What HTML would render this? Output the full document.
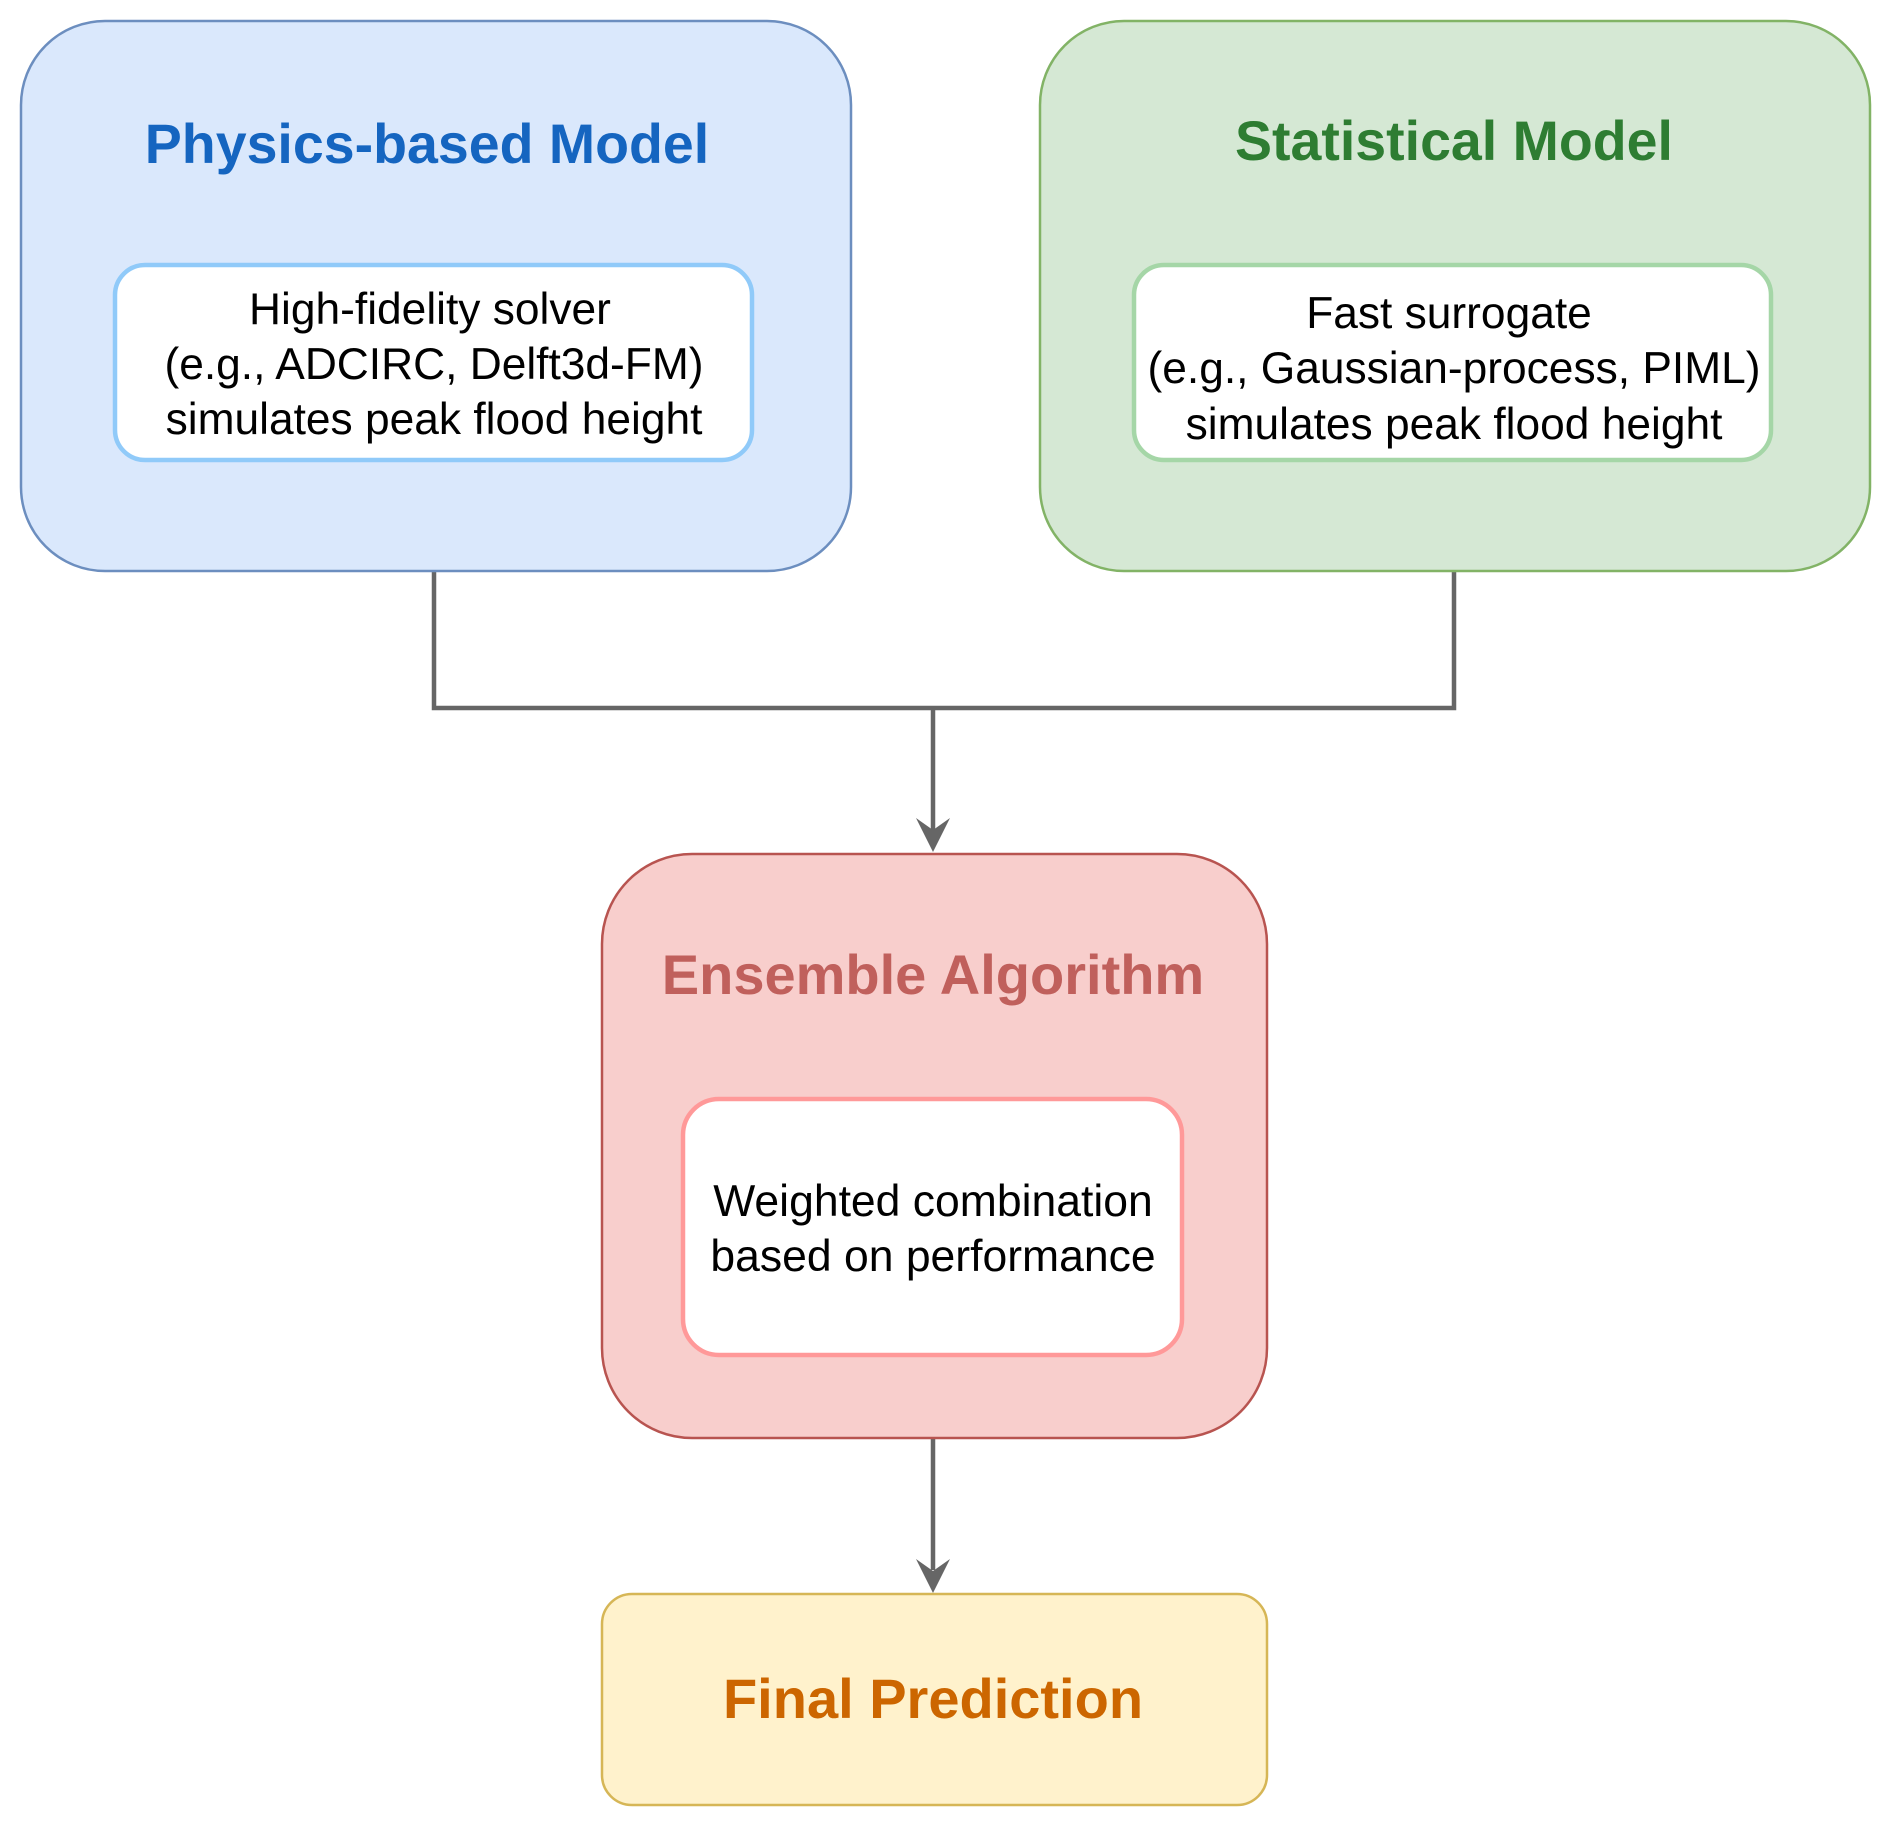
<!DOCTYPE html>
<html><head><meta charset="utf-8"><style>
html,body{margin:0;padding:0;background:#fff;}
svg{display:block;}
text{font-family:"Liberation Sans",Arial,sans-serif;}
</style></head><body>
<svg width="1892" height="1826" viewBox="0 0 1892 1826" xmlns="http://www.w3.org/2000/svg">
<rect width="1892" height="1826" fill="#fff"/>
<g stroke="#666" stroke-width="4.5" fill="none">
<polyline points="434,571 434,708 1454,708 1454,571"/>
<line x1="933" y1="708" x2="933" y2="830"/>
<line x1="933" y1="1438" x2="933" y2="1570"/>
</g>
<polygon points="916,818 933,830 950,818 933,852" fill="#666"/>
<polygon points="916,1559 933,1571 950,1559 933,1593" fill="#666"/>

<rect x="21" y="21" width="830" height="550" rx="84" fill="#dae8fc" stroke="#6c8ebf" stroke-width="2.5"/>
<text x="427" y="163" text-anchor="middle" font-size="55.5" font-weight="bold" fill="#1565c0">Physics-based Model</text>
<rect x="115" y="265" width="637" height="195" rx="30" fill="#fff" stroke="#90caf9" stroke-width="4.5"/>
<g font-size="44.3" fill="#000" text-anchor="middle">
<text x="430" y="324">High-fidelity solver</text>
<text x="434" y="379">(e.g., ADCIRC, Delft3d-FM)</text>
<text x="434" y="434">simulates peak flood height</text>
</g>

<rect x="1040" y="21" width="830" height="550" rx="84" fill="#d5e8d4" stroke="#82b366" stroke-width="2.5"/>
<text x="1454" y="160" text-anchor="middle" font-size="55.5" font-weight="bold" fill="#2e7d32">Statistical Model</text>
<rect x="1134" y="265" width="637" height="195" rx="30" fill="#fff" stroke="#a5d6a7" stroke-width="4.5"/>
<g font-size="44.3" fill="#000" text-anchor="middle">
<text x="1449" y="328">Fast surrogate</text>
<text x="1454" y="383">(e.g., Gaussian-process, PIML)</text>
<text x="1454" y="439">simulates peak flood height</text>
</g>

<rect x="602" y="854" width="665" height="584" rx="90" fill="#f8cecc" stroke="#b85450" stroke-width="2.5"/>
<text x="933" y="994" text-anchor="middle" font-size="56" font-weight="bold" fill="#c0605c">Ensemble Algorithm</text>
<rect x="683" y="1099" width="499" height="256" rx="36" fill="#fff" stroke="#ff9999" stroke-width="4.5"/>
<g font-size="44.5" fill="#000" text-anchor="middle">
<text x="933" y="1216">Weighted combination</text>
<text x="933" y="1271">based on performance</text>
</g>

<rect x="602" y="1594" width="665" height="211" rx="30" fill="#fff2cc" stroke="#d6b656" stroke-width="2.5"/>
<text x="933" y="1718" text-anchor="middle" font-size="56" font-weight="bold" fill="#cc6600">Final Prediction</text>
</svg>
</body></html>
